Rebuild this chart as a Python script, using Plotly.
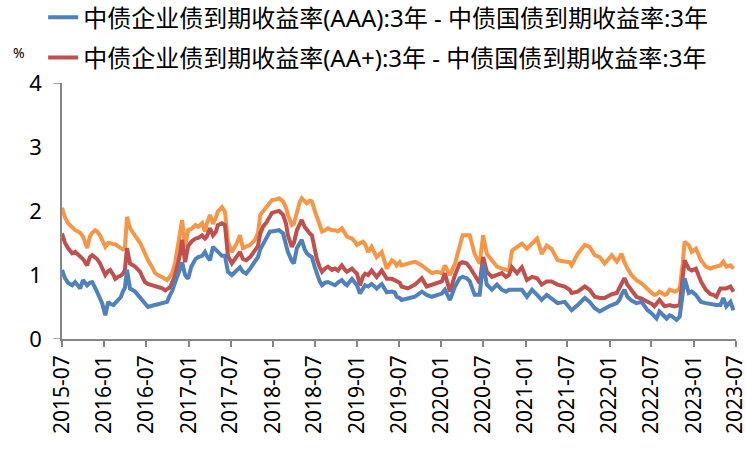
import plotly.graph_objects as go

# Credit spreads: 3-year corporate bond yield minus 3-year treasury yield (%)
dates = [
    "2015-07-01", "2015-07-14", "2015-07-27", "2015-08-14", "2015-08-27", "2015-09-18", "2015-09-30",
    "2015-10-18", "2015-10-30", "2015-11-09", "2015-11-22", "2015-11-30", "2015-12-13", "2015-12-22",
    "2016-01-05", "2016-01-17", "2016-01-26", "2016-02-09", "2016-02-17", "2016-02-28", "2016-03-13",
    "2016-03-21", "2016-03-30", "2016-04-08", "2016-04-21", "2016-05-13", "2016-06-04", "2016-06-12",
    "2016-06-25", "2016-07-08", "2016-07-26", "2016-08-08", "2016-08-21", "2016-09-08", "2016-09-21",
    "2016-09-29", "2016-10-12", "2016-10-21", "2016-11-03", "2016-11-16", "2016-11-25", "2016-12-03",
    "2016-12-16", "2016-12-29", "2017-01-12", "2017-01-30", "2017-02-11", "2017-02-28", "2017-03-12",
    "2017-03-20", "2017-04-03", "2017-04-16", "2017-04-29", "2017-05-07", "2017-05-25", "2017-06-07",
    "2017-06-20", "2017-07-07", "2017-07-29", "2017-08-11", "2017-08-24", "2017-09-07", "2017-09-24",
    "2017-10-15", "2017-10-28", "2017-11-07", "2017-11-20", "2017-12-02", "2017-12-19", "2017-12-28",
    "2018-01-15", "2018-01-28", "2018-02-14", "2018-02-27", "2018-03-07", "2018-03-24", "2018-04-02",
    "2018-04-15", "2018-04-28", "2018-05-06", "2018-05-19", "2018-05-28", "2018-06-10", "2018-06-19",
    "2018-07-02", "2018-07-10", "2018-07-23", "2018-08-02", "2018-08-15", "2018-08-28", "2018-09-14",
    "2018-09-27", "2018-10-10", "2018-10-27", "2018-11-10", "2018-11-18", "2018-12-01", "2018-12-10",
    "2018-12-23", "2019-01-01", "2019-01-14", "2019-01-27", "2019-02-05", "2019-02-18", "2019-03-05",
    "2019-03-18", "2019-03-27", "2019-04-18", "2019-05-01", "2019-05-10", "2019-06-01", "2019-06-13",
    "2019-06-22", "2019-07-05", "2019-07-13", "2019-08-09", "2019-09-09", "2019-10-09", "2019-10-30",
    "2019-11-21", "2019-12-13", "2020-01-04", "2020-01-17", "2020-02-08", "2020-03-01", "2020-03-21",
    "2020-04-03", "2020-04-21", "2020-05-04", "2020-05-25", "2020-06-16", "2020-07-01", "2020-07-17",
    "2020-08-08", "2020-08-30", "2020-09-20", "2020-10-08", "2020-10-21", "2020-11-03", "2020-11-25",
    "2020-12-16", "2021-01-07", "2021-01-29", "2021-02-20", "2021-03-12", "2021-04-03", "2021-04-24",
    "2021-05-20", "2021-06-20", "2021-07-11", "2021-07-20", "2021-08-15", "2021-09-15", "2021-10-06",
    "2021-10-28", "2021-11-19", "2021-12-10", "2022-01-02", "2022-01-10", "2022-02-01", "2022-02-14",
    "2022-02-22", "2022-03-06", "2022-03-19", "2022-04-06", "2022-04-27", "2022-05-19", "2022-06-01",
    "2022-06-14", "2022-07-02", "2022-07-14", "2022-07-23", "2022-08-05", "2022-08-27", "2022-09-05",
    "2022-09-18", "2022-09-27", "2022-10-10", "2022-10-18", "2022-11-01", "2022-11-14", "2022-11-22",
    "2022-12-10", "2022-12-23", "2023-01-10", "2023-02-01", "2023-02-22", "2023-03-14", "2023-03-27",
    "2023-04-09", "2023-04-26", "2023-05-09", "2023-05-22", "2023-06-09", "2023-06-22",
]

spread_aa = [
    2.05, 1.90, 1.81, 1.75, 1.70, 1.66, 1.60, 1.42, 1.60, 1.66, 1.70, 1.68, 1.62, 1.55,
    1.44, 1.50, 1.50, 1.48, 1.48, 1.45, 1.42, 1.40, 1.42, 1.91, 1.73, 1.62, 1.50, 1.44,
    1.33, 1.23, 1.12, 1.03, 1.00, 0.97, 0.94, 0.92, 0.98, 1.03, 1.19, 1.50, 1.68, 1.86,
    1.44, 1.70, 1.72, 1.78, 1.75, 1.81, 1.68, 1.80, 1.94, 1.80, 1.90, 1.99, 2.06, 1.99,
    1.52, 1.36, 1.50, 1.62, 1.42, 1.45, 1.47, 1.55, 1.65, 1.94, 2.00, 2.04, 2.12, 2.17,
    2.18, 2.20, 2.15, 2.05, 1.94, 1.78, 1.80, 1.99, 2.15, 2.20, 2.14, 2.12, 2.16, 2.15,
    2.00, 1.92, 1.75, 1.68, 1.70, 1.73, 1.70, 1.70, 1.68, 1.73, 1.65, 1.60, 1.58, 1.57,
    1.52, 1.47, 1.50, 1.52, 1.48, 1.36, 1.44, 1.35, 1.28, 1.36, 1.20, 1.10, 1.23, 1.20,
    1.15, 1.20, 1.15, 1.18, 1.21, 1.15, 1.10, 1.03, 1.05, 1.03, 1.15, 1.00, 1.18, 1.44,
    1.62, 1.62, 1.62, 1.33, 1.18, 1.62, 1.33, 1.23, 1.13, 1.10, 1.08, 1.07, 1.38, 1.44,
    1.49, 1.41, 1.49, 1.57, 1.33, 1.46, 1.41, 1.23, 1.21, 1.20, 1.15, 1.33, 1.47, 1.44,
    1.31, 1.28, 1.18, 1.28, 1.31, 1.21, 1.28, 1.33, 1.20, 1.10, 1.00, 0.92, 0.87, 0.82,
    0.77, 0.72, 0.69, 0.70, 0.74, 0.69, 0.70, 0.77, 0.76, 0.74, 0.75, 0.79, 1.18, 1.52,
    1.47, 1.36, 1.41, 1.23, 1.13, 1.10, 1.12, 1.13, 1.15, 1.21, 1.13, 1.15, 1.10,
]

spread_aa_plus = [
    1.65, 1.50, 1.42, 1.34, 1.36, 1.30, 1.25, 1.15, 1.28, 1.31, 1.28, 1.25, 1.18, 1.10,
    1.00, 1.06, 1.08, 1.00, 0.94, 0.97, 0.99, 1.02, 1.08, 1.42, 1.18, 1.13, 1.05, 0.98,
    0.89, 0.86, 0.84, 0.82, 0.81, 0.79, 0.76, 0.78, 0.81, 0.88, 1.00, 1.20, 1.34, 1.55,
    1.20, 1.45, 1.52, 1.57, 1.58, 1.62, 1.57, 1.60, 1.73, 1.62, 1.68, 1.78, 1.81, 1.78,
    1.30, 1.18, 1.28, 1.36, 1.25, 1.23, 1.28, 1.38, 1.45, 1.65, 1.76, 1.81, 1.92, 1.97,
    1.99, 2.00, 1.94, 1.80, 1.62, 1.44, 1.50, 1.70, 1.80, 1.86, 1.75, 1.70, 1.65, 1.62,
    1.40, 1.26, 1.12, 1.05, 1.10, 1.13, 1.08, 1.10, 1.07, 1.15, 1.08, 1.05, 1.08, 1.10,
    1.05, 1.02, 0.84, 0.98, 1.02, 1.00, 1.07, 1.02, 0.97, 1.07, 1.00, 0.94, 0.94, 0.92,
    0.90, 0.88, 0.82, 0.79, 0.85, 0.95, 0.82, 0.85, 0.87, 0.90, 1.03, 0.74, 1.00, 1.18,
    1.20, 1.18, 1.12, 1.00, 0.87, 1.28, 1.05, 0.97, 1.00, 1.03, 0.97, 1.00, 1.12, 1.03,
    1.12, 0.92, 0.97, 0.95, 0.85, 0.90, 0.90, 0.85, 0.82, 0.77, 0.72, 0.74, 0.82, 0.77,
    0.66, 0.64, 0.64, 0.69, 0.70, 0.72, 0.82, 0.88, 0.95, 0.85, 0.75, 0.66, 0.63, 0.61,
    0.58, 0.55, 0.51, 0.55, 0.61, 0.51, 0.52, 0.53, 0.52, 0.51, 0.52, 0.53, 0.97, 1.23,
    1.10, 1.07, 1.10, 0.90, 0.77, 0.70, 0.69, 0.66, 0.79, 0.79, 0.79, 0.82, 0.74,
]

spread_aaa = [
    1.08, 0.95, 0.88, 0.84, 0.89, 0.79, 0.92, 0.84, 0.88, 0.89, 0.80, 0.74, 0.66, 0.56,
    0.37, 0.58, 0.55, 0.53, 0.56, 0.61, 0.66, 0.74, 0.80, 1.08, 0.79, 0.74, 0.65, 0.61,
    0.55, 0.50, 0.52, 0.53, 0.54, 0.56, 0.57, 0.58, 0.69, 0.75, 0.89, 1.00, 1.10, 1.20,
    1.00, 0.94, 1.13, 1.25, 1.28, 1.30, 1.36, 1.30, 1.23, 1.44, 1.40, 1.36, 1.30, 1.30,
    1.05, 1.00, 1.08, 1.12, 1.05, 1.02, 1.10, 1.22, 1.28, 1.40, 1.49, 1.58, 1.68, 1.68,
    1.70, 1.70, 1.65, 1.50, 1.36, 1.22, 1.18, 1.42, 1.50, 1.55, 1.40, 1.34, 1.30, 1.28,
    1.12, 1.02, 0.90, 0.84, 0.88, 0.89, 0.86, 0.84, 0.88, 0.92, 0.86, 0.84, 0.90, 0.94,
    0.88, 0.84, 0.71, 0.80, 0.84, 0.82, 0.86, 0.82, 0.79, 0.86, 0.78, 0.73, 0.74, 0.73,
    0.66, 0.64, 0.61, 0.64, 0.66, 0.74, 0.69, 0.66, 0.69, 0.71, 0.77, 0.61, 0.82, 0.95,
    0.97, 0.95, 0.90, 0.69, 0.69, 1.18, 0.85, 0.77, 0.85, 0.77, 0.74, 0.77, 0.77, 0.77,
    0.77, 0.66, 0.77, 0.69, 0.61, 0.69, 0.64, 0.56, 0.58, 0.50, 0.45, 0.53, 0.64, 0.58,
    0.48, 0.43, 0.48, 0.52, 0.53, 0.56, 0.62, 0.70, 0.77, 0.66, 0.60, 0.56, 0.58, 0.51,
    0.45, 0.40, 0.35, 0.32, 0.43, 0.36, 0.32, 0.37, 0.36, 0.32, 0.30, 0.35, 0.72, 0.95,
    0.72, 0.74, 0.69, 0.58, 0.56, 0.54, 0.53, 0.53, 0.53, 0.64, 0.51, 0.58, 0.45,
]

name_aaa = "中债企业债到期收益率(AAA):3年 - 中债国债到期收益率:3年"
name_aa_plus = "中债企业债到期收益率(AA+):3年 - 中债国债到期收益率:3年"
name_aa = "中债企业债到期收益率(AA):3年 - 中债国债到期收益率:3年"

tick_dates = [
    "2015-07-01", "2016-01-01", "2016-07-01", "2017-01-01", "2017-07-01", "2018-01-01",
    "2018-07-01", "2019-01-01", "2019-07-01", "2020-01-01", "2020-07-01", "2021-01-01",
    "2021-07-01", "2022-01-01", "2022-07-01", "2023-01-01", "2023-07-01",
]
tick_labels = [d[:7] for d in tick_dates]
y_ticks = [0, 1, 2, 3, 4]

FONT = "Noto Sans, Noto Sans CJK SC, sans-serif"
AXIS_GREY = "#868686"

fig = go.Figure()
fig.add_trace(go.Scatter(
    x=dates, y=spread_aa, name=name_aa, mode="lines", showlegend=False,
    line=dict(color="#F79646", width=4),
))
fig.add_trace(go.Scatter(
    x=dates, y=spread_aa_plus, name=name_aa_plus, mode="lines", legendgroup="b", legendrank=2,
    line=dict(color="#C0504D", width=4),
))
fig.add_trace(go.Scatter(
    x=dates, y=spread_aaa, name=name_aaa, mode="lines", legendgroup="a", legendrank=1,
    line=dict(color="#4F81BD", width=4),
))

# Short y-axis ticks at the bottom and top of the scale
for yv in (0, 4):
    fig.add_shape(type="line", xref="paper", yref="y", x0=-0.013, x1=0, y0=yv, y1=yv,
                  line=dict(color=AXIS_GREY, width=1.5))

fig.add_annotation(text="%", xref="paper", yref="paper", x=-0.075, y=1.12,
                   xanchor="left", yanchor="middle", showarrow=False,
                   font=dict(family=FONT, size=14, color="#000000"))

fig.update_layout(
    width=746, height=451,
    margin=dict(l=62, r=10, t=83, b=112, autoexpand=False),
    paper_bgcolor="white", plot_bgcolor="white",
    font=dict(family=FONT, size=22, color="#000000"),
    legend=dict(
        x=-0.028, y=1.343, xanchor="left", yanchor="top",
        traceorder="grouped", tracegroupgap=6,
        font=dict(family=FONT, size=24, color="#000000"),
        bgcolor="rgba(0,0,0,0)",
    ),
    xaxis=dict(
        type="date", range=["2015-07-01", "2023-07-03"],
        tickmode="array", tickvals=tick_dates, ticktext=tick_labels, tickangle=-90,
        ticks="outside", ticklen=6, tickcolor=AXIS_GREY, tickwidth=1.5,
        showline=True, linecolor=AXIS_GREY, linewidth=1.5,
        showgrid=False, zeroline=False, ticklabeloverflow="allow",
        tickfont=dict(family=FONT, size=21, color="#000000"),
    ),
    yaxis=dict(
        range=[0, 4], tickmode="array", tickvals=y_ticks,
        showline=True, linecolor=AXIS_GREY, linewidth=1.5,
        showgrid=False, zeroline=False, ticks="", ticklabelstandoff=14,
        tickfont=dict(family=FONT, size=22, color="#000000"),
    ),
)

fig.write_html("out.html")
